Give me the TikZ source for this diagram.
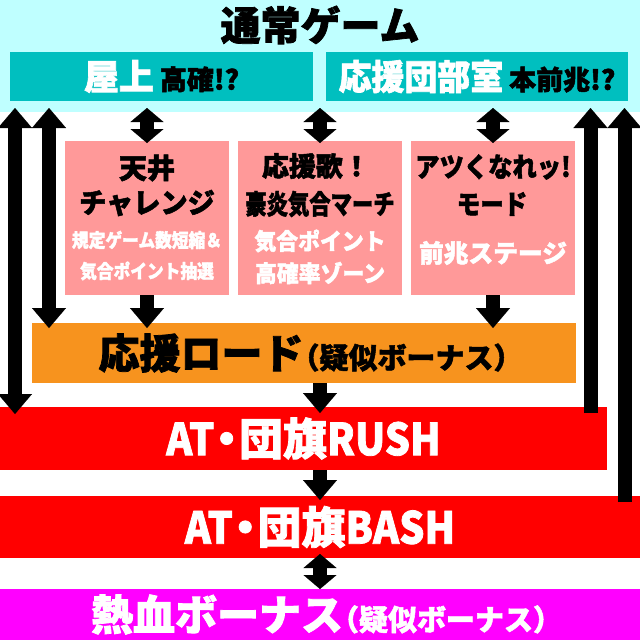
\documentclass[tikz,border=0pt]{standalone}
\usepackage{fontspec}
\usepackage{graphicx}
\usetikzlibrary{arrows.meta,calc}
\newfontfamily\jp{Noto Sans CJK JP}[BoldFeatures={FakeBold=1.8}]
\definecolor{cbg}{RGB}{191,255,255}
\definecolor{tealbox}{RGB}{0,191,191}
\definecolor{pinkbox}{RGB}{255,153,153}
\definecolor{orangebox}{RGB}{247,147,30}
\definecolor{redbox}{RGB}{255,0,0}
\definecolor{magbox}{RGB}{255,0,255}
\newcommand\jsz[2]{{\fontsize{#1}{#1}\selectfont #2}}
\newcommand\sx[2]{\scalebox{#1}[1]{#2}}
\newcommand\lpar{\kern-0.45em（}
\newcommand\rpar{）\kern-0.45em}
\newcommand\ndot{\kern-0.22em・\kern-0.22em}
\tikzset{
  box/.style={anchor=north west, inner sep=0pt, outer sep=0pt, draw=none},
  tipbig/.tip={Triangle[length=20pt,width=34pt,line width=0.1pt]},
  tipsmall/.tip={Triangle[length=14pt,width=33pt,line width=0.1pt]},
  fatarrow/.style={line width=14pt, -tipbig},
  fatdouble/.style={line width=14pt, tipbig-tipbig},
  shortdouble/.style={line width=14pt, tipsmall-tipsmall},
  wtxt/.style={text=white},
}
\begin{document}
\begin{tikzpicture}[x=1pt,y=-1pt,every node/.style={font=\jp\bfseries}]
\useasboundingbox (0,0) rectangle (640,640);
\fill[white] (0,0) rectangle (640,640);
% boxes
\node[box, fill=cbg, minimum width=640pt, minimum height=112pt] (normal) at (0,0) {};
\node (ttl) at (320,25) {\jsz{40}{通常ゲーム}};
\node[box, fill=tealbox, minimum width=303pt, minimum height=49pt] (roof) at (10,52)
  {{\color{white}\jsz{35}{屋上}}\hspace{6pt}\jsz{27}{高確!?}};
\node[box, fill=tealbox, minimum width=302pt, minimum height=49pt] (club) at (326,52)
  {{\color{white}\jsz{35}{\sx{0.94}{応援団部室}}}\hspace{6pt}\jsz{27}{本前兆!?}};
\node[box, fill=pinkbox, minimum width=164pt, minimum height=154pt] (p1) at (65,141) {};
\node[box, fill=pinkbox, minimum width=164pt, minimum height=154pt] (p2) at (238,141) {};
\node[box, fill=pinkbox, minimum width=164pt, minimum height=154pt] (p3) at (411,141) {};
\node[box, fill=orangebox, minimum width=544pt, minimum height=60pt] (road) at (32,323)
  {\jsz{41}{応援ロード}\jsz{29}{\lpar 疑似ボーナス\rpar}};
\node[box, fill=redbox, minimum width=607pt, minimum height=63pt, wtxt] (rush) at (0,407)
  {\jsz{44}{\sx{0.9}{AT}\ndot 団旗\sx{0.9}{RUSH}}};
\node[box, fill=redbox, minimum width=640pt, minimum height=62pt, wtxt] (bash) at (0,496)
  {\jsz{44}{\sx{0.9}{AT}\ndot 団旗\sx{0.9}{BASH}}};
\node[box, fill=magbox, minimum width=640pt, minimum height=51pt, wtxt] (nek) at (0,589)
  {\jsz{42}{熱血ボーナス}\jsz{29}{\lpar 疑似ボーナス\rpar}};
% pink texts
\node (t1a) at (147,168) {\jsz{28}{天井}};
\node (t1b) at (147,203) {\jsz{28}{\sx{0.97}{チャレンジ}}};
\node[wtxt] (t1c) at (147,240) {\jsz{19}{\sx{0.88}{規定ゲーム数短縮＆}}};
\node[wtxt] (t1d) at (147,271) {\jsz{19}{\sx{0.88}{気合ポイント抽選}}};
\node (t2a) at (316,166) {\jsz{27}{応援歌！}};
\node (t2b) at (320,204) {\jsz{27}{\sx{0.79}{豪炎気合マーチ}}};
\node[wtxt] (t2c) at (320,241) {\jsz{23}{\sx{0.95}{気合ポイント}}};
\node[wtxt] (t2d) at (320,273) {\jsz{23}{\sx{0.95}{高確率ゾーン}}};
\node (t3a) at (493,167) {\jsz{27}{\sx{0.9}{アツくなれッ!}}};
\node (t3b) at (492,204) {\jsz{27}{\sx{0.87}{モード}}};
\node[wtxt] (t3c) at (493,253) {\jsz{25}{\sx{0.99}{前兆ステージ}}};
% columns
\coordinate (xL1) at (15,0);
\coordinate (xL2) at (49,0);
\coordinate (xR1) at (590.5,0);
\coordinate (xR2) at (624.5,0);
\coordinate (xc1) at (147,0);
\coordinate (xc2) at (320,0);
\coordinate (xc3) at (493,0);
% arrows
\draw[fatdouble, shorten <=-4pt, shorten >=-7pt] (normal.south -| xL1) -- (rush.north -| xL1);
\draw[fatdouble, shorten <=-4pt, shorten >=-5pt] (normal.south -| xL2) -- (road.north -| xL2);
\draw[fatarrow, shorten <=-6pt, shorten >=-4pt] (rush.north -| xR1) -- (normal.south -| xR1);
\draw[fatarrow, shorten <=-6pt, shorten >=-4pt] (bash.north -| xR2) -- (normal.south -| xR2);
\draw[shortdouble, shorten <=-4pt, shorten >=-2pt] (normal.south -| xc1) -- (p1.north -| xc1);
\draw[shortdouble, shorten <=-4pt, shorten >=-2pt] (normal.south -| xc2) -- (p2.north -| xc2);
\draw[shortdouble, shorten <=-4pt, shorten >=-2pt] (normal.south -| xc3) -- (p3.north -| xc3);
\draw[fatarrow, shorten >=-5pt] (p1.south -| xc1) -- (road.north -| xc1);
\draw[fatarrow, shorten >=-5pt] (p3.south -| xc3) -- (road.north -| xc3);
\draw[fatarrow, shorten >=-6pt] (road.south -| xc2) -- (rush.north -| xc2);
\draw[fatarrow, shorten >=-4pt] (rush.south -| xc2) -- (bash.north -| xc2);
\draw[shortdouble, shorten <=-4pt] (bash.south -| xc2) -- (nek.north -| xc2);
\end{tikzpicture}
\end{document}
